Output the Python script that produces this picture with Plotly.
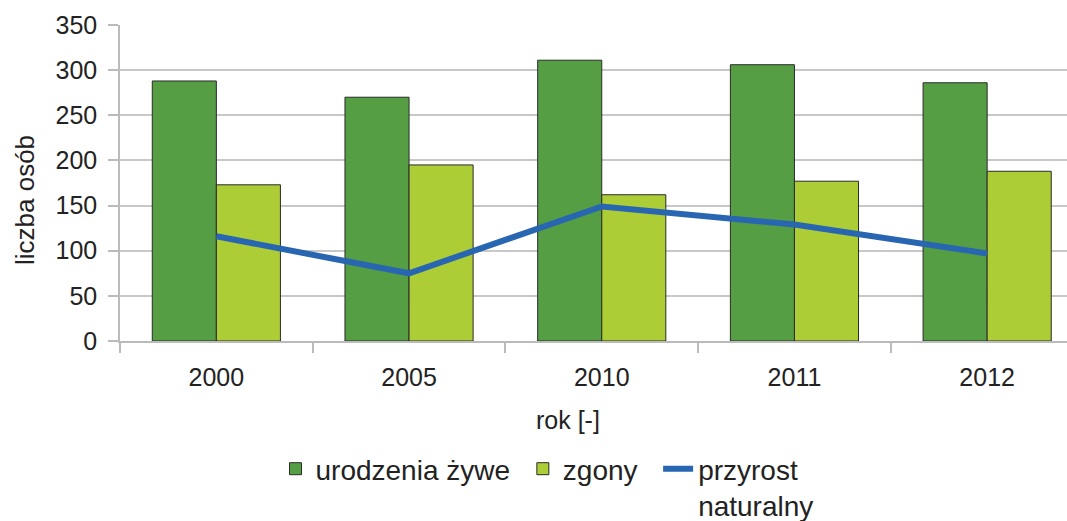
import plotly.graph_objects as go

years = ["2000", "2005", "2010", "2011", "2012"]
urodzenia = [288, 270, 311, 306, 286]
zgony = [173, 195, 162, 177, 188]
przyrost = [116, 75, 149, 129, 97]
y_ticks = [0, 50, 100, 150, 200, 250, 300, 350]
names = ["urodzenia żywe\u00a0", "zgony\u00a0\u00a0", "przyrost<br>naturalny"]

FONT = "Liberation Sans, Arial, sans-serif"
TXT = "#222222"
FS = 25

fig = go.Figure()
fig.add_trace(go.Bar(x=years, y=urodzenia, name=names[0],
                     marker=dict(color="#559E43", line=dict(color="#2a2a2a", width=1))))
fig.add_trace(go.Bar(x=years, y=zgony, name=names[1],
                     marker=dict(color="#ADCD37", line=dict(color="#2a2a2a", width=1))))
fig.add_trace(go.Scatter(x=years, y=przyrost, name=names[2], mode="lines",
                         line=dict(color="#2866B2", width=6)))

W, H = 1067, 521
L, R, T, B = 120, 0, 25, 180
pw, ph = W - L - R, H - T - B
cat_px = 192.7  # width of one category in the reference
x_hi = -0.5 + pw / cat_px

fig.update_layout(
    width=W, height=H,
    margin=dict(l=L, r=R, t=T, b=B, autoexpand=False),
    paper_bgcolor="white", plot_bgcolor="white",
    barmode="group", bargap=0.335, bargroupgap=0,
    font=dict(family=FONT, size=FS, color=TXT),
    showlegend=True,
    legend=dict(orientation="h", x=(547 - L) / pw, xanchor="center",
                y=-(444 - (T + ph)) / ph, yanchor="top",
                font=dict(size=28, color=TXT), valign="top",
                itemwidth=30, traceorder="normal"),
    xaxis=dict(type="category", range=[-0.5, x_hi], showgrid=False, showline=True,
               linecolor="#bbbbbb", linewidth=1.5, ticks="outside", tickson="boundaries",
               ticklen=10, tickcolor="#bbbbbb", tickwidth=1.5,
               tickfont=dict(size=FS, color=TXT), automargin=False, ticklabelstandoff=13),
    yaxis=dict(range=[0, 350], tickvals=y_ticks, showgrid=True, gridcolor="#c8c8c8",
               gridwidth=1.5, showline=True, linecolor="#bbbbbb", linewidth=1.5,
               ticks="outside", ticklen=10, tickcolor="#bbbbbb", tickwidth=1.5,
               tickfont=dict(size=FS, color=TXT), zeroline=False, automargin=False,
               ticklabelstandoff=6),
    annotations=[
        dict(text="rok [-]", xref="paper", yref="paper", x=(568 - L) / pw,
             y=-(420 - (T + ph)) / ph, showarrow=False, font=dict(size=FS, color=TXT),
             xanchor="center", yanchor="middle"),
        dict(text="liczba osób", xref="paper", yref="paper", x=-(L - 25) / pw,
             y=(T + ph - 200) / ph, showarrow=False, textangle=-90,
             font=dict(size=26, color=TXT), xanchor="center", yanchor="middle"),
    ],
)

fig.write_html("out.html", config={"displayModeBar": False},
               post_script="document.body.style.margin='0';document.body.style.padding='0';")
